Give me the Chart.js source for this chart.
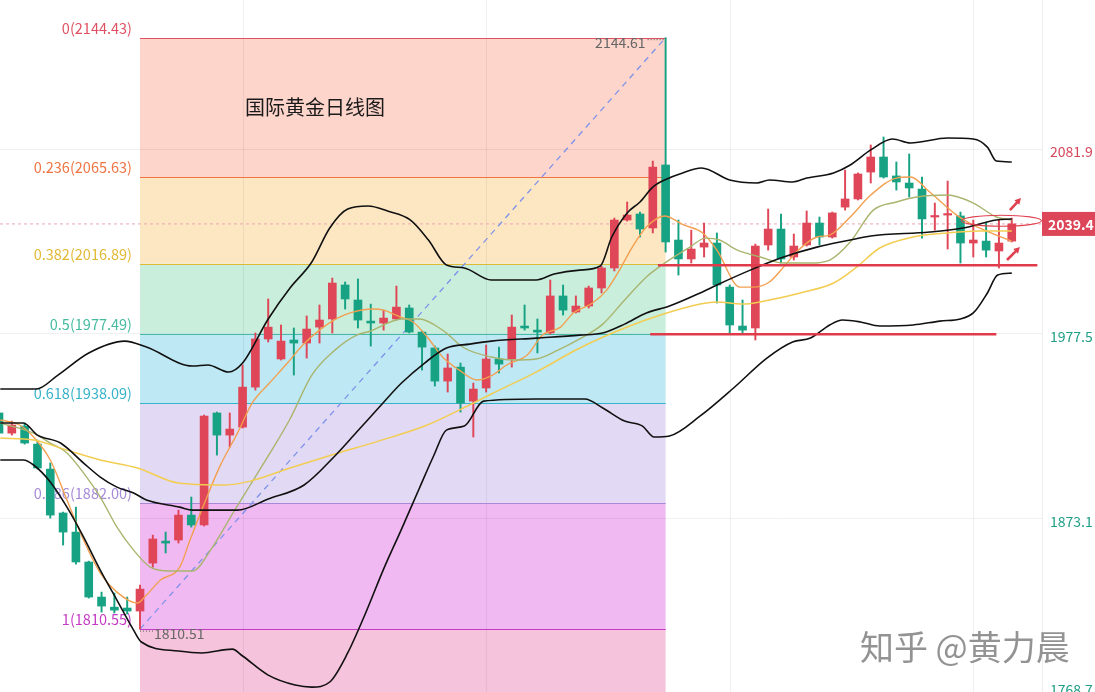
<!DOCTYPE html>
<html><head><meta charset="utf-8">
<script src="https://cdn.jsdelivr.net/npm/chart.js@4.4.1/dist/chart.umd.min.js"></script>
<style>html,body{margin:0;padding:0;background:#fff;overflow:hidden}#wrap{position:relative;width:1095px;height:692px}</style>
</head><body><div id="wrap"><canvas id="c"></canvas></div>
<script>
// ---- candles (daily gold) ----
const opens  = [1932.6,1921.2,1925.2,1915.0,1900.9,1876.1,1865.3,1848.4,1828.6,1822.9,1822.4,1820.7,1847.8,1860.2,1860.8,1874.9,1869.3,1932.6,1920.1,1924.6,1947.2,1974.4,1963.1,1973.8,1972.1,1981.1,1985.7,2004.9,1996.4,1984.5,1983.4,1985.7,1991.9,1978.3,1969.3,1950.6,1958.5,1939.3,1946.7,1963.1,1963.1,1981.7,1979.4,1977.8,1998.7,1989.6,1993.0,2003.2,2014.5,2041.6,2045.0,2037.1,2072.7,2030.3,2019.6,2026.3,2028.6,2003.7,1981.7,1980.6,2027.5,2036.5,2020.7,2027.5,2039.9,2032.0,2048.9,2053.5,2068.7,2077.2,2066.5,2062.5,2059.1,2043.3,2044.4,2043.9,2028.6,2029.7,2024.1,2029.7];
const highs  = [1933.7,1928.0,1926.9,1917.3,1904.3,1876.6,1879.4,1848.9,1831.4,1830.9,1828.6,1835.4,1863.6,1865.3,1877.7,1885.1,1931.4,1933.1,1932.6,1959.7,1977.8,1997.0,1982.3,1980.6,1987.4,1993.6,2008.8,2006.6,2008.3,1994.1,1990.7,2004.3,1993.6,1978.9,1970.4,1965.9,1960.8,1949.5,1971.0,1969.8,1987.9,1993.6,1985.7,2007.7,2004.9,1998.7,2004.3,2015.6,2042.7,2051.8,2046.1,2074.9,2144.61,2041.6,2035.9,2039.9,2034.3,2004.9,1996.4,2028.0,2047.8,2045.0,2033.7,2046.7,2043.3,2046.1,2069.8,2068.2,2084.0,2088.5,2074.4,2078.9,2065.9,2051.2,2063.6,2046.1,2041.6,2039.9,2041.6,2042.7];
const lows   = [1920.7,1920.1,1915.0,1900.9,1873.2,1858.0,1847.2,1828.0,1820.1,1819.6,1819.0,1810.51,1845.5,1853.5,1859.1,1868.1,1868.7,1908.8,1913.3,1924.1,1945.5,1972.7,1962.5,1954.0,1963.6,1972.1,1977.8,1991.3,1980.6,1970.4,1979.4,1985.1,1977.8,1956.8,1947.8,1944.4,1933.1,1919.0,1944.4,1955.2,1958.5,1979.4,1966.5,1977.2,1987.9,1989.1,1991.9,2000.4,2012.8,2041.0,2032.0,2034.3,2023.5,2010.5,2017.3,2020.7,1994.7,1977.8,1977.8,1973.8,2024.6,2017.3,2019.0,2026.9,2027.5,2031.4,2047.2,2052.9,2062.5,2065.3,2058.5,2054.6,2031.4,2035.9,2025.2,2017.3,2020.7,2020.7,2014.5,2029.2];
const closes = [1921.2,1925.8,1915.6,1901.5,1874.9,1865.3,1848.4,1828.6,1823.5,1821.2,1820.7,1833.1,1861.4,1859.1,1874.9,1869.3,1930.9,1920.1,1923.5,1947.2,1974.4,1981.1,1973.2,1972.1,1980.0,1985.1,2006.0,1997.0,1985.1,1983.4,1986.2,1992.4,1978.3,1969.8,1950.6,1958.0,1938.2,1946.1,1963.1,1960.2,1981.1,1980.6,1978.3,1998.7,1990.7,1993.0,2003.2,2014.5,2041.6,2044.4,2036.5,2071.5,2029.2,2019.6,2025.2,2028.6,2004.9,1982.3,1979.4,2026.9,2036.5,2019.6,2026.9,2039.9,2032.0,2045.6,2053.5,2067.6,2077.2,2065.9,2063.1,2059.7,2042.2,2043.9,2045.0,2028.6,2030.3,2024.6,2028.6,2039.4];

// ---- indicator lines (x = candle index) ----
const bollUpperIdx = [0.1,2.9,4.6,7.0,9.8,11.5,15.1,16.3,17.9,19.0,21.0,22.7,24.4,25.8,27.2,28.8,30.3,32.1,33.5,34.9,36.3,38.4,41.9,43.3,45.3,46.9,47.8,49.0,50.0,51.0,52.1,53.1,54.8,57.0,59.1,60.1,61.9,63.0,65.1,66.4,68.0,69.7,71.1,74.0,76.0,77.1,77.8,79.0];
const bollUpperVal = [1946.1,1946.1,1954.0,1966.5,1973.2,1969.8,1959.1,1959.7,1955.7,1960.8,1985.7,2003.2,2017.9,2037.1,2047.8,2049.5,2046.7,2041.6,2030.3,2016.2,2014.5,2007.7,2007.7,2011.1,2013.3,2015.6,2032.0,2045.6,2051.8,2060.2,2064.8,2067.6,2071.0,2064.2,2062.5,2064.2,2063.1,2065.3,2068.2,2072.7,2081.2,2087.4,2085.1,2087.9,2087.4,2082.8,2074.9,2074.4];
const bollMidIdx = [0.1,1.9,3.0,4.8,6.6,7.9,9.2,10.5,11.5,14.1,15.1,18.6,21.0,23.8,26.2,27.9,29.6,31.4,33.2,34.9,36.7,38.4,41.9,45.3,47.1,48.8,50.5,52.3,54.7,56.0,58.6,61.2,63.8,66.4,68.0,72.6,75.2,77.8,79.0];
const bollMidVal = [1926.9,1926.9,1920.1,1915.6,1904.3,1896.4,1890.7,1887.4,1883.4,1879.4,1877.7,1877.7,1884.0,1891.9,1908.3,1921.8,1935.4,1949.5,1960.8,1969.3,1971.5,1973.2,1974.9,1976.6,1977.8,1982.8,1989.1,1993.0,2000.4,2004.9,2013.3,2020.7,2026.3,2030.3,2032.6,2034.8,2037.1,2041.6,2042.2];
const bollLowIdx = [0.1,1.9,2.7,4.0,5.3,6.6,7.9,9.2,10.5,11.1,14.0,15.8,18.2,19.0,21.0,23.1,24.4,25.8,27.2,28.6,30.0,31.4,32.8,33.9,34.9,36.3,37.8,41.9,45.7,47.1,48.8,50.2,51.1,52.3,54.7,57.3,59.9,61.9,63.3,64.8,65.8,67.2,68.7,71.3,73.4,75.0,76.0,77.1,77.9,79.0];
const bollLowVal = [1906.0,1906.0,1903.2,1893.6,1879.4,1862.5,1843.8,1826.9,1809.9,1803.2,1798.1,1797.0,1799.2,1795.3,1784.5,1778.9,1777.7,1780.6,1797.0,1819.6,1844.4,1867.0,1890.2,1908.3,1922.9,1925.2,1939.3,1940.5,1940.5,1935.4,1928.0,1925.2,1919.0,1919.6,1930.9,1946.7,1963.6,1972.7,1974.9,1982.3,1985.1,1984.0,1981.7,1982.3,1984.5,1985.7,1989.1,2000.4,2010.5,2011.6];
const ma5Idx = [0.1,1.6,2.7,4.0,5.3,6.6,7.9,9.2,10.8,11.5,12.6,14.1,14.9,15.9,17.2,18.6,19.8,21.1,22.5,23.7,25.0,26.4,27.6,29.2,30.0,31.3,32.3,33.4,34.6,35.9,37.3,38.5,39.6,41.2,42.4,43.8,44.8,46.3,47.4,48.4,49.4,50.5,51.9,53.4,54.9,56.0,57.8,58.8,60.1,61.2,62.2,63.8,64.8,66.4,68.0,70.0,71.1,72.6,74.7,75.7,77.8,79.0];
const ma5Val = [1928.6,1925.8,1919.0,1906.0,1883.4,1860.8,1842.2,1831.4,1825.2,1829.7,1838.2,1845.5,1860.8,1879.4,1902.0,1921.2,1938.8,1949.5,1960.8,1971.0,1979.4,1986.2,1989.6,1991.3,1990.7,1986.8,1984.0,1975.5,1964.2,1956.8,1951.2,1954.0,1959.7,1965.3,1976.6,1981.1,1989.1,1994.7,2002.0,2013.3,2026.3,2037.6,2043.9,2038.8,2034.3,2024.6,2003.7,2003.7,2006.6,2015.0,2023.5,2032.0,2033.1,2043.3,2055.7,2065.3,2065.9,2057.4,2044.4,2039.9,2033.1,2029.7];
const ma10Idx = [0.1,2.7,4.0,5.3,6.6,7.9,9.2,10.5,11.8,13.3,15.1,16.5,18.2,19.6,21.0,22.7,24.4,26.2,27.9,29.0,31.4,32.8,34.6,36.3,38.4,40.1,41.9,43.6,45.3,47.1,48.8,50.5,51.6,53.9,55.1,56.2,57.6,59.4,61.2,63.3,64.8,66.4,68.2,70.0,71.6,74.0,76.0,77.8,79.0];
const ma10Val = [1926.9,1921.2,1915.6,1910.0,1898.6,1885.1,1868.1,1855.1,1845.5,1843.3,1843.3,1855.1,1875.5,1891.9,1908.3,1929.2,1954.0,1968.1,1976.6,1978.9,1985.7,1985.7,1979.4,1969.3,1964.2,1962.5,1963.1,1968.1,1974.4,1982.8,1996.4,2009.4,2015.6,2026.3,2031.4,2030.3,2024.6,2020.7,2017.3,2017.3,2019.0,2029.2,2047.2,2051.8,2054.6,2055.7,2051.2,2043.3,2041.6];
const maLongIdx = [0.1,2.7,5.3,7.9,10.8,14.0,17.5,19.6,22.7,26.2,29.6,33.2,36.7,38.4,41.9,45.3,48.8,51.6,54.7,56.0,58.0,60.1,62.5,65.1,66.9,68.7,71.3,74.0,76.5,79.0];
const maLongVal = [1918.4,1917.3,1911.6,1906.0,1901.5,1893.0,1891.9,1894.1,1901.5,1909.4,1916.7,1925.2,1937.1,1943.3,1955.7,1969.3,1980.6,1987.9,1994.1,1995.3,1994.1,1996.4,2000.4,2006.0,2015.0,2025.8,2032.0,2034.3,2035.4,2035.4];

// ---- Fibonacci retracement ----
const fibRatios = [0,0.236,0.382,0.5,0.618,0.786,1];
const fibValues = [2144.43,2065.63,2016.89,1977.49,1938.09,1882.00,1810.55];
const fibStartIndex = 11, fibEndIndex = 52;
const swingLow = 1810.51, swingHigh = 2144.61;

// ---- horizontal support lines, axis ticks ----
const supportUpper = 2016.1, supportUpperFrom = 51.4, supportUpperTo = 81.0;
const supportLower = 1977.1, supportLowerFrom = 50.8, supportLowerTo = 77.8;
const axisTickValues = [2081.9,1977.5,1873.1,1768.7];
const gridIndices = [19,38,57,76];
const lastPrice = 2039.4;
const titleText = '国际黄金日线图';
const watermarkText = '知乎 @黄力晨';

const FONT = '"Noto Sans CJK SC","Noto Sans",sans-serif';
const UP = '#DF4657', DOWN = '#17A284';
const fibZoneColors = ['#FDD5CB','#FDE7C3','#C9EEDB','#BEE8F3','#E2DAF4','#F1B9F1','#F6C3DC'];
const fibLineColors = ['#E05063','#EE7444','#E2B935','#45BBA0','#36B3CA','#A58AD8','#C43AC4'];

const X_MIN = 0.078, X_MAX = 81.36, Y_MIN = 1774.96, Y_MAX = 2165.9;

const idx = opens.map((_, i) => i);
const candleColors = idx.map(i => closes[i] >= opens[i] ? UP : DOWN);
const pts = (xs, ys) => xs.map((x, i) => ({x, y: ys[i]}));
const lineDS = (data, color, width, extra) => Object.assign({type:'line', data, borderColor:color, borderWidth:width, pointRadius:0, cubicInterpolationMode:'monotone', fill:false, order:0}, extra||{});

const datasets = [
  lineDS([{x:supportUpperFrom,y:supportUpper},{x:supportUpperTo,y:supportUpper}], '#E03A4B', 2.5, {cubicInterpolationMode:'default', order:-1}),
  lineDS([{x:supportLowerFrom,y:supportLower},{x:supportLowerTo,y:supportLower}], '#E03A4B', 2.5, {cubicInterpolationMode:'default', order:-1}),
  lineDS(pts(bollUpperIdx,bollUpperVal), '#111111', 1.6),
  lineDS(pts(bollMidIdx,bollMidVal), '#111111', 1.6),
  lineDS(pts(bollLowIdx,bollLowVal), '#111111', 1.6),
  lineDS(pts(maLongIdx,maLongVal), '#F3CD52', 1.5),
  lineDS(pts(ma10Idx,ma10Val), '#A9B56F', 1.4),
  lineDS(pts(ma5Idx,ma5Val), '#F2A050', 1.4),
  lineDS([{x:fibStartIndex,y:swingLow},{x:fibEndIndex,y:swingHigh}], '#7F92EA', 1.3, {borderDash:[6,5], cubicInterpolationMode:'default', order:3}),
  lineDS([{x:X_MIN,y:lastPrice},{x:X_MAX,y:lastPrice}], '#EBA6B4', 1, {borderDash:[3,3], cubicInterpolationMode:'default', order:4}),
  {type:'bar', data: idx.map(i => ({x:i, y:[opens[i], closes[i]]})), backgroundColor:candleColors, barThickness:8, minBarLength:1.5, grouped:false, order:1},
  {type:'bar', data: idx.map(i => ({x:i, y:[lows[i], highs[i]]})), backgroundColor:candleColors, barThickness:1.3, grouped:false, order:2}
];

function arrow(ctx, fx, fy, tx, ty, color){
  const ang = Math.atan2(ty - fy, tx - fx), h = 7;
  ctx.strokeStyle = color; ctx.fillStyle = color; ctx.lineWidth = 2.6;
  ctx.beginPath(); ctx.moveTo(fx, fy); ctx.lineTo(tx - Math.cos(ang)*4, ty - Math.sin(ang)*4); ctx.stroke();
  ctx.beginPath(); ctx.moveTo(tx, ty);
  ctx.lineTo(tx - h*Math.cos(ang - 0.5), ty - h*Math.sin(ang - 0.5));
  ctx.lineTo(tx - h*Math.cos(ang + 0.5), ty - h*Math.sin(ang + 0.5));
  ctx.closePath(); ctx.fill();
}

const overlay = {
  id:'overlay',
  beforeDatasetsDraw(chart){
    const {ctx, chartArea:a, scales:{x, y}} = chart;
    ctx.save();
    const x0 = x.getPixelForValue(fibStartIndex), x1 = x.getPixelForValue(fibEndIndex);
    fibValues.forEach((v, k) => {
      const top = y.getPixelForValue(v);
      const bot = k + 1 < fibValues.length ? y.getPixelForValue(fibValues[k+1]) : a.bottom;
      ctx.fillStyle = fibZoneColors[k]; ctx.fillRect(x0, top, x1 - x0, bot - top);
    });
    ctx.strokeStyle = 'rgba(0,0,0,0.06)'; ctx.lineWidth = 1;
    gridIndices.forEach(g => { const px = Math.round(x.getPixelForValue(g)) + 0.5; ctx.beginPath(); ctx.moveTo(px, a.top); ctx.lineTo(px, a.bottom); ctx.stroke(); });
    axisTickValues.forEach(v => { const py = Math.round(y.getPixelForValue(v)) + 0.5; ctx.beginPath(); ctx.moveTo(a.left, py); ctx.lineTo(a.right, py); ctx.stroke(); });
    ctx.font = '14.5px ' + FONT; ctx.textAlign = 'right'; ctx.textBaseline = 'middle';
    fibValues.forEach((v, k) => {
      const py = Math.round(y.getPixelForValue(v)) + 0.5;
      ctx.strokeStyle = fibLineColors[k]; ctx.lineWidth = 1.2;
      ctx.beginPath(); ctx.moveTo(x0, py); ctx.lineTo(x1, py); ctx.stroke();
      ctx.fillStyle = fibLineColors[k];
      ctx.fillText(fibRatios[k] + '(' + v.toFixed(2) + ')', x0 - 8, py - 10);
    });
    // swing labels
    ctx.fillStyle = '#666'; ctx.font = '14px ' + FONT;
    const pl = y.getPixelForValue(swingLow), ph = y.getPixelForValue(swingHigh);
    ctx.textAlign = 'left'; ctx.fillText(swingLow.toFixed(2), x0 + 14, pl + 5);
    ctx.textAlign = 'right'; ctx.fillText(swingHigh.toFixed(2), x1 - 20, ph + 5);
    ctx.strokeStyle = '#555'; ctx.lineWidth = 1; ctx.setLineDash([1,2]);
    ctx.beginPath(); ctx.moveTo(x0, pl + 2); ctx.lineTo(x0 + 13, pl + 2); ctx.stroke();
    ctx.beginPath(); ctx.moveTo(x1 - 18, ph + 2); ctx.lineTo(x1, ph + 2); ctx.stroke();
    ctx.setLineDash([]);
    // title
    ctx.fillStyle = '#1a1a1a'; ctx.font = '20px ' + FONT; ctx.textAlign = 'left';
    ctx.fillText(titleText, 245, 107);
    ctx.restore();
  },
  afterDatasetsDraw(chart){
    const {ctx, chartArea:a, scales:{x, y}} = chart;
    ctx.save();
    // ellipse around current price
    ctx.strokeStyle = '#E0404F'; ctx.lineWidth = 1.1;
    ctx.beginPath(); ctx.ellipse(x.getPixelForValue(78.2), y.getPixelForValue(2041.2), 40, 5.5, 0, 0, Math.PI*2); ctx.stroke();
    arrow(ctx, x.getPixelForValue(78.86), y.getPixelForValue(2047.2), x.getPixelForValue(79.72), y.getPixelForValue(2054.0), '#E0404F');
    arrow(ctx, x.getPixelForValue(78.63), y.getPixelForValue(2019.0), x.getPixelForValue(79.64), y.getPixelForValue(2026.3), '#E0404F');
    // right axis
    ctx.strokeStyle = '#ECEEF0'; ctx.lineWidth = 1;
    ctx.beginPath(); ctx.moveTo(a.right + 0.5, 0); ctx.lineTo(a.right + 0.5, chart.height); ctx.stroke();
    ctx.font = '14px ' + FONT; ctx.textAlign = 'left'; ctx.textBaseline = 'middle';
    axisTickValues.forEach(v => {
      const py = Math.min(y.getPixelForValue(v) + 3, chart.height - 2);
      ctx.fillStyle = v > lastPrice ? '#D4465A' : '#1E9E86';
      ctx.fillText(v.toFixed(1), a.right + 8, py);
    });
    const pp = y.getPixelForValue(lastPrice);
    ctx.fillStyle = '#DC4658'; ctx.fillRect(a.right, pp - 12, chart.width - a.right, 24);
    ctx.fillStyle = '#fff'; ctx.font = 'bold 14px ' + FONT;
    ctx.fillText(lastPrice.toFixed(1), a.right + 6, pp + 1);
    // watermark
    ctx.font = '34px ' + FONT; ctx.fillStyle = 'rgba(120,120,120,0.8)';
    ctx.fillText(watermarkText, 860, 647);
    ctx.restore();
  }
};

new Chart(document.getElementById('c'), {
  type:'bar',
  data:{datasets},
  options:{
    responsive:true, maintainAspectRatio:false, animation:false, events:[],
    layout:{padding:{left:0, right:53, top:0, bottom:0}},
    plugins:{legend:{display:false}, tooltip:{enabled:false}},
    scales:{
      x:{type:'linear', min:X_MIN, max:X_MAX, offset:false, display:false},
      y:{type:'linear', min:Y_MIN, max:Y_MAX, display:false}
    }
  },
  plugins:[overlay]
});
</script></body></html>
